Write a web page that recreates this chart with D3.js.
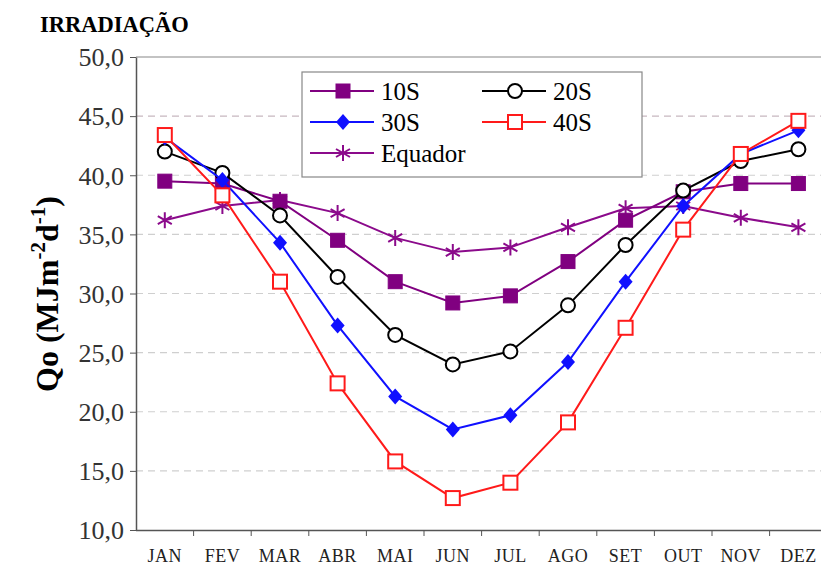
<!DOCTYPE html>
<html>
<head>
<meta charset="utf-8">
<script src="https://cdn.jsdelivr.net/npm/d3@7"></script>
<style>
    body { margin: 0; background: #fff; }
    svg text { font-family: "Liberation Serif", "Times New Roman", serif; }
</style>
</head>
<body>
<div class="chart"></div>
<script>
// Data
const months = ['JAN', 'FEV', 'MAR', 'ABR', 'MAI', 'JUN', 'JUL', 'AGO', 'SET', 'OUT', 'NOV', 'DEZ'];
const yTicks = [10, 15, 20, 25, 30, 35, 40, 45, 50];

const s10 = [39.5, 39.3, 37.8, 34.5, 31.0, 29.2, 29.8, 32.7, 36.2, 38.6, 39.3, 39.3];
const s20 = [42.0, 40.2, 36.6, 31.4, 26.5, 24.0, 25.1, 29.0, 34.1, 38.7, 41.2, 42.2];
const s30 = [43.2, 39.6, 34.3, 27.3, 21.3, 18.5, 19.7, 24.2, 31.0, 37.4, 41.8, 43.8];
const s40 = [43.4, 38.3, 31.0, 22.4, 15.8, 12.7, 14.0, 19.1, 27.1, 35.4, 41.8, 44.6];
const equador = [36.2, 37.4, 37.9, 36.8, 34.7, 33.5, 33.9, 35.6, 37.2, 37.4, 36.4, 35.6];

const series = [
    {name: 'Equador', values: equador, color: '#8b0a8b', marker: 'star'},
    {name: '10S', values: s10, color: '#800080', marker: 'square'},
    {name: '20S', values: s20, color: '#000000', marker: 'circle'},
    {name: '30S', values: s30, color: '#1010ff', marker: 'diamond'},
    {name: '40S', values: s40, color: '#ff1a1a', marker: 'opensquare'}
];

const W = 821, H = 567;
const margin = {top: 57, right: 0, bottom: 37, left: 136};
const width = W - margin.left - margin.right;
const height = H - margin.top - margin.bottom;

const xScale = d3.scaleBand().domain(months).range([0, 57.6 * 12]);
const yScale = d3.scaleLinear().domain([10, 50]).range([height, 0]);
const fmt = d => d3.format('.1f')(d).replace('.', ',');

const svg = d3.select('.chart').append('svg')
    .attr('width', W).attr('height', H);

svg.append('text')
    .attr('x', 40).attr('y', 32)
    .style('font-size', '22.5px').style('font-weight', 'bold')
    .text('IRRADIAÇÃO');

const g = svg.append('g').attr('transform', `translate(${margin.left}, ${margin.top})`);

// Grid
g.append('g').selectAll('line')
    .data(yTicks.filter(d => d > 10 && d < 50))
    .enter().append('line')
    .attr('x1', 0).attr('x2', width)
    .attr('y1', d => yScale(d)).attr('y2', d => yScale(d))
    .style('stroke', d => d === 45 ? '#c8b8c0' : '#cfcfcf').style('stroke-width', 1.2)
    .style('stroke-dasharray', '7,5');

g.append('line')
    .attr('x1', 0).attr('x2', width)
    .attr('y1', yScale(50)).attr('y2', yScale(50))
    .style('stroke', '#888').style('stroke-width', 1.2);

// Axes
const yAxis = d3.axisLeft(yScale).tickValues(yTicks).tickFormat(fmt).tickSizeInner(6).tickSizeOuter(0);
const yAxisDraw = g.append('g').call(yAxis).attr('font-family', null);
yAxisDraw.select('.domain').style('stroke', '#555').style('stroke-width', 1.5);
yAxisDraw.selectAll('.tick line').style('stroke', '#555');
yAxisDraw.selectAll('text').style('font-size', '26px').style('fill', '#333').attr('x', -12).attr('dy', '0.34em');

const xAxis = d3.axisBottom(xScale).tickSize(0).tickSizeOuter(0);
const xAxisDraw = g.append('g').attr('transform', `translate(0, ${height})`).call(xAxis).attr('font-family', null);
xAxisDraw.select('.domain').attr('d', `M0,0.5H${width}`).style('stroke', '#555').style('stroke-width', 1.5);
xAxisDraw.selectAll('text').style('font-size', '18px').style('fill', '#222')
    .attr('y', 32).attr('dy', 0).style('letter-spacing', '0.5px');
xAxisDraw.append('g').selectAll('line')
    .data(months.slice(1))
    .enter().append('line')
    .attr('x1', d => xScale(d)).attr('x2', d => xScale(d))
    .attr('y1', 0).attr('y2', 6)
    .style('stroke', '#555');

svg.append('text')
    .attr('transform', `translate(58, 294) rotate(-90)`)
    .attr('text-anchor', 'middle')
    .style('font-size', '32px').style('font-weight', 'bold')
    .html('Qo (MJm<tspan dy="-13" font-size="21px">-2</tspan><tspan dy="13">d</tspan><tspan dy="-13" font-size="21px">-1</tspan><tspan dy="13">)</tspan>');

// Marker drawing
function drawMarker(sel, type, color) {
    if (type === 'square') {
        sel.append('rect').attr('x', -7).attr('y', -7).attr('width', 14).attr('height', 14)
            .style('fill', color).style('stroke', color);
    } else if (type === 'opensquare') {
        sel.append('rect').attr('x', -7).attr('y', -7).attr('width', 14).attr('height', 14)
            .style('fill', '#fff').style('stroke', color).style('stroke-width', 2);
    } else if (type === 'circle') {
        sel.append('circle').attr('r', 7)
            .style('fill', '#fff').style('stroke', color).style('stroke-width', 2);
    } else if (type === 'diamond') {
        sel.append('path').attr('d', 'M0,-8L7,0L0,8L-7,0Z').style('fill', color);
    } else if (type === 'star') {
        sel.append('path').attr('d', 'M0,-8V8M-7,-4L7,4M-7,4L7,-4')
            .style('stroke', color).style('stroke-width', 2);
    }
}

const cx = d => xScale(d) + xScale.bandwidth() / 2;
const line = d3.line().x((d, i) => cx(months[i])).y(d => yScale(d));

series.forEach(s => {
    const sg = g.append('g');
    sg.append('path').datum(s.values).attr('d', line)
        .style('fill', 'none').style('stroke', s.color).style('stroke-width', 2);
    sg.selectAll('.pt').data(s.values).enter().append('g')
        .attr('class', 'pt')
        .attr('transform', (d, i) => `translate(${cx(months[i])}, ${yScale(d)})`)
        .each(function() { drawMarker(d3.select(this), s.marker, s.color); });
});

// Legend
const legend = svg.append('g');
legend.append('rect').attr('x', 302).attr('y', 72).attr('width', 340).attr('height', 105)
    .style('fill', '#fff').style('stroke', '#888').style('stroke-width', 1.2);

const legendItems = [
    {s: series[1], x: 310, y: 91},
    {s: series[2], x: 482, y: 91},
    {s: series[3], x: 310, y: 122},
    {s: series[4], x: 482, y: 122},
    {s: series[0], x: 310, y: 153}
];
legendItems.forEach(it => {
    const lg = legend.append('g').attr('transform', `translate(${it.x}, ${it.y})`);
    lg.append('line').attr('x1', 0).attr('x2', 64)
        .style('stroke', it.s.color).style('stroke-width', 2);
    drawMarker(lg.append('g').attr('transform', 'translate(33, 0)'), it.s.marker, it.s.color);
    lg.append('text').attr('x', 71).attr('dy', '0.35em')
        .style('font-size', '25px').text(it.s.name);
});
</script>
</body>
</html>
